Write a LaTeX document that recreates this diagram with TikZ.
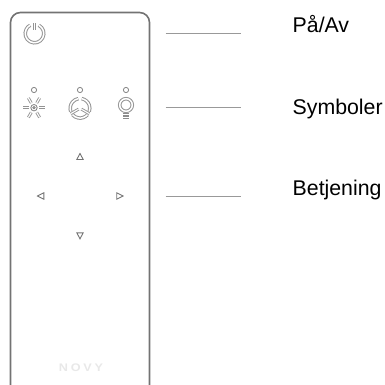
\documentclass[tikz,border=0pt]{standalone}
\usepackage{fontspec}
\setmainfont{Liberation Sans}
\newfontfamily\novyfont[LetterSpace=22]{Liberation Sans}
\begin{document}
\begin{tikzpicture}[x=1pt,y=-1pt,
  body/.style={draw=black!55,line width=1.6pt,rounded corners=10pt},
  leader/.style={draw=black!40,line width=1pt},
  label/.style={anchor=base west,inner sep=0pt,font=\fontsize{21.3pt}{24pt}\selectfont,text=black},
  dbl/.style={draw=black!42,line width=1pt,double=white,double distance=1.5pt,line cap=butt},
  dblthin/.style={draw=black!42,line width=0.9pt,double=white,double distance=1.1pt,line cap=butt},
  led/.style={draw=black!50,line width=0.8pt,fill=white},
  tri/.style={draw=black!55,line width=0.9pt,line join=miter}]
\useasboundingbox (0,0) rectangle (385,385);
\begin{scope}
\clip (0,0) rectangle (385,385);
\draw[body] (10.5,395) -- (10.5,12.5) -- (149.5,12.5) -- (149.5,395);
\end{scope}
% power
\draw[dbl] (34.5,33.5) ++(-62:9.3) arc[start angle=-62,end angle=242,radius=9.3];
\draw[dblthin] (34.5,23.5) -- (34.5,30);
% indicators
\draw[led] (34,90) circle[radius=2.6];
\draw[led] (80,90) circle[radius=2.6];
\draw[led] (126,90) circle[radius=2.6];
% sun
\draw[led] (34,107.7) circle[radius=3.2];
\draw[led] (34,107.7) circle[radius=1.2];
\foreach \a in {0,60,120,180,240,300}
  \draw[dblthin] (34,107.7) ++(\a:5.4) -- ++(\a:5.8);
% fan
\foreach \a in {-90,30,150}{
  \draw[dbl] (80,108.3) ++(\a+10:9.8) arc[start angle=\a+10,end angle=\a+110,radius=9.8];
  \draw[dblthin] (80,108.3) ++(\a:1.6) -- ++(\a:9.2);
}
% bulb
\draw[dbl] (126,105) circle[radius=6.3];
\draw[draw=black!45,line width=1.2pt] (123,113.5) -- (129,113.5);
\draw[draw=black!45,line width=1.2pt] (123,116) -- (129,116);
\draw[draw=black!45,line width=1.2pt] (123,118.5) -- (129,118.5);
% arrows
\draw[tri] (80,153.5) -- (83.2,159.5) -- (76.8,159.5) -- cycle;
\draw[tri] (80,238.8) -- (83.2,232.8) -- (76.8,232.8) -- cycle;
\draw[tri] (37.5,196) -- (43.8,192.8) -- (43.8,199.2) -- cycle;
\draw[tri] (123,196) -- (116.7,192.8) -- (116.7,199.2) -- cycle;
\node[inner sep=0pt,text=black!9,xscale=1.15] (brand) at (81,368) {\fontsize{11pt}{12pt}\novyfont\bfseries NOVY};
% leaders
\coordinate (a1) at (165.5,33.5); \coordinate (a2) at (241,33.5);
\coordinate (b1) at (165.5,107.5); \coordinate (b2) at (241,107.5);
\coordinate (c1) at (165.5,196); \coordinate (c2) at (241,196);
\draw[leader] (a1) -- (a2);
\draw[leader] (b1) -- (b2);
\draw[leader] (c1) -- (c2);
\node[label] (l1) at (292.5,33) {På/Av};
\node[label] (l2) at (292.5,114) {Symboler};
\node[label] (l3) at (292.5,195) {Betjening};
\end{tikzpicture}
\end{document}
